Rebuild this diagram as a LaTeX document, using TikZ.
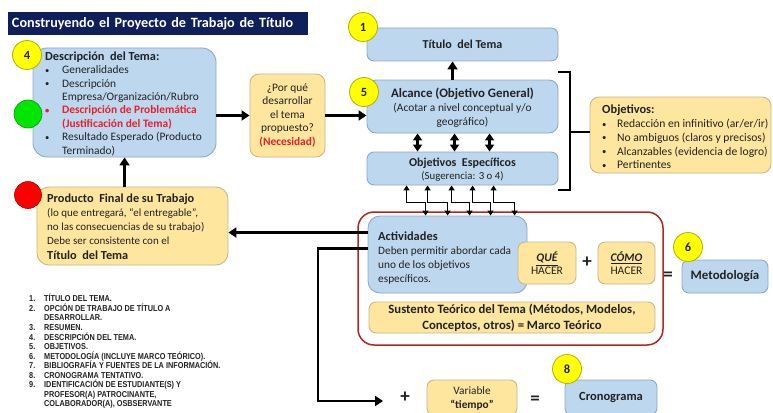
\documentclass[tikz,border=0pt]{standalone}
\usepackage{fontspec}
\usepackage{graphicx}
\setmainfont{Carlito}
\newfontfamily\listfont[FakeStretch=0.85]{Liberation Sans}
\usetikzlibrary{arrows.meta}
\definecolor{bluefill}{HTML}{BDD7EE}
\definecolor{bluebd}{HTML}{8EA9C8}
\definecolor{yelfill}{HTML}{FFE69E}
\definecolor{yelbd}{HTML}{C9B88A}
\definecolor{navy}{HTML}{0E1F5B}
\definecolor{numfill}{HTML}{FFFF00}
\definecolor{numbd}{HTML}{B5B000}
\definecolor{frame}{HTML}{B52525}
\definecolor{alert}{HTML}{E8202A}
\definecolor{ink}{HTML}{222222}
\newcommand{\smallbul}{\raisebox{0.6pt}{\scalebox{0.75}{•}}}
\newcommand{\bul}[1]{\makebox[17pt][l]{\smallbul}#1}
\newcommand{\bulo}[1]{\makebox[15pt][l]{\smallbul}#1}
\begin{document}
\begin{tikzpicture}[x=1pt,y=-1pt,
  every node/.style={text=ink, inner sep=0pt},
  box/.style={rounded corners=7pt, line width=0.9pt, inner sep=0pt},
  bluebox/.style={box, draw=bluebd, fill=bluefill},
  yelbox/.style={box, draw=yelbd, fill=yelfill},
  num/.style={circle, draw=numbd, line width=0.8pt, fill=numfill, minimum size=29pt, font=\fontsize{12.5}{13}\selectfont\bfseries},
  dot/.style={circle, line width=0.6pt, minimum size=28pt},
  big/.style={line width=2.6pt, -{Triangle[length=8pt,width=10pt]}},
  dbl/.style={line width=2.6pt, {Triangle[length=7pt,width=9pt]}-{Triangle[length=7pt,width=9pt]}},
  link/.style={line width=1.4pt, {Triangle[length=5pt,width=6pt]}-{Triangle[length=5pt,width=6pt]}},
  sym/.style={font=\fontsize{19}{19}\selectfont\bfseries}
]
\useasboundingbox (0,0) rectangle (773,412);
\clip (0,0) rectangle (773,412);
\fill[white] (0,0) rectangle (773,412);

% heading bar
\node[fill=navy, minimum width=300pt, minimum height=23pt, text width=292pt, align=left,
      font=\fontsize{14.2}{15}\selectfont\bfseries, text=white] (head) at (158,23.5)
  {Construyendo el\ Proyecto de Trabajo de Título};

% boxes
\node[bluebox, rounded corners=14pt, minimum width=183pt, minimum height=109pt] (desc) at (124.5,102.5) {};
\node[yelbox, rounded corners=9pt, minimum width=75pt, minimum height=83pt] (porque) at (287.5,115.5) {};
\node[bluebox, minimum width=191pt, minimum height=33pt] (titulo) at (462.5,44.5) {};
\node[bluebox, rounded corners=9pt, minimum width=191pt, minimum height=53pt] (alc) at (462.5,106.5) {};
\node[bluebox, minimum width=191pt, minimum height=33pt] (oe) at (462.5,168.5) {};
\node[yelbox, rounded corners=9pt, minimum width=181pt, minimum height=76pt] (obj) at (680.5,135) {};
\node[box, draw=frame, line width=1.5pt, rounded corners=16pt, minimum width=305pt, minimum height=133pt] (frame) at (510.5,278.5) {};
\node[bluebox, rounded corners=12pt, minimum width=159pt, minimum height=77pt] (act) at (447.5,254.5) {};
\node[yelbox, minimum width=58pt, minimum height=42pt] (que) at (547,263) {};
\node[yelbox, minimum width=57pt, minimum height=42pt] (como) at (626.5,263) {};
\node[yelbox, minimum width=286pt, minimum height=31pt] (sust) at (512,317.5) {};
\node[bluebox, minimum width=86pt, minimum height=33pt] (metod) at (725,276.5) {};
\node[yelbox, rounded corners=12pt, minimum width=191pt, minimum height=78pt] (prod) at (132.5,226) {};
\node[yelbox, minimum width=90pt, minimum height=35pt] (var) at (472,397.5) {};
\node[bluebox, minimum width=92pt, minimum height=35pt] (crono) at (611,397.5) {};

% texts
\node[anchor=north west, align=left, font=\fontsize{11.4}{13.4}\selectfont] (desct) at (45,51.5)
  {{\fontsize{12.3}{13.4}\selectfont\bfseries Descripción\ \ del Tema:}\\
   \bul{Generalidades}\\
   \bul{Descripción}\\
   \hspace*{17pt}Empresa/Organización/Rubro\\
   \textcolor{alert}{\bfseries\bul{Descripción de Problemática}}\\
   \hspace*{17pt}\textcolor{alert}{\bfseries(Justificación del Tema)}\\
   \bul{Resultado Esperado (Producto}\\
   \hspace*{17pt}Terminado)};
\node[align=center, font=\fontsize{11.4}{13.5}\selectfont] (porquet) at (287.5,115)
  {¿Por qué\\desarrollar\\el tema\\propuesto?\\\textcolor{alert}{\bfseries(Necesidad)}};
\node[font=\fontsize{12.1}{13}\selectfont\bfseries] (titulot) at (titulo) {Título\ \ del Tema};
\node[align=center, font=\fontsize{11.4}{14}\selectfont] (alct) at (462.5,108)
  {{\fontsize{12.9}{14}\selectfont\bfseries Alcance (Objetivo General)}\\(Acotar a nivel conceptual y/o\\geográfico)};
\node[align=center, font=\fontsize{10.8}{12.5}\selectfont] (oet) at (462.5,169.5)
  {{\fontsize{12}{12.5}\selectfont\bfseries Objetivos\ \ Específicos}\\(Sugerencia: 3 o 4)};
\node[anchor=north west, align=left, font=\fontsize{11.6}{13.7}\selectfont] (objt) at (602,105)
  {{\fontsize{12.4}{13.7}\selectfont\bfseries Objetivos:}\\
   \bulo{Redacción en infinitivo (ar/er/ir)}\\
   \bulo{No ambiguos (claros y precisos)}\\
   \bulo{Alcanzables (evidencia de logro)}\\
   \bulo{Pertinentes}};
\node[anchor=north west, align=left, font=\fontsize{11.3}{14}\selectfont] (actt) at (378,231.5)
  {{\fontsize{12.4}{14}\selectfont\bfseries Actividades}\\Deben permitir abordar cada\\uno de los objetivos\\específicos.};
\node[align=center, font=\fontsize{11.6}{13}\selectfont] (quet) at (547,263.5)
  {\underline{\bfseries\itshape QUÉ}\\HACER};
\node[align=center, font=\fontsize{11.6}{13}\selectfont] (comot) at (626.5,263.5)
  {\underline{\bfseries\itshape CÓMO}\\HACER};
\node[sym] (plus1) at (587,262) {+};
\node[sym] (eq1) at (668,276) {=};
\node[align=center, font=\fontsize{12.7}{16}\selectfont\bfseries] (sustt) at (512,318)
  {Sustento Teórico del Tema (Métodos, Modelos,\\Conceptos,\ otros) = Marco Teórico};
\node[font=\fontsize{12.9}{13}\selectfont\bfseries] (metodt) at (metod) {Metodología};
\node[anchor=north west, align=left, font=\fontsize{11}{14.2}\selectfont] (prodt) at (47,193.5)
  {{\fontsize{12.3}{14.2}\selectfont\bfseries Producto\ \ Final de su Trabajo}\\
   (lo que entregará, “el entregable”,\\
   no las consecuencias de su trabajo)\\
   Debe ser consistente con el\\
   {\fontsize{12.3}{14.2}\selectfont\bfseries Título\ \ del Tema}};
\node[align=center, font=\fontsize{11.3}{14}\selectfont] (vart) at (472,398)
  {Variable\\\textbf{“tiempo”}};
\node[font=\fontsize{12.5}{13}\selectfont\bfseries] (cronot) at (crono) {Cronograma};
\node[sym] (plus2) at (405,397) {+};
\node[sym] (eq2) at (535,400) {=};

% outline list
\node[anchor=north west, align=left, font=\listfont\bfseries\fontsize{8.6}{9.55}\selectfont] (lista) at (29,294)
  {\makebox[15pt][l]{1.}TÍTULO DEL TEMA.\\
   \makebox[15pt][l]{2.}OPCIÓN DE TRABAJO DE TÍTULO A\\
   \hspace*{15pt}DESARROLLAR.\\
   \makebox[15pt][l]{3.}RESUMEN.\\
   \makebox[15pt][l]{4.}DESCRIPCIÓN DEL TEMA.\\
   \makebox[15pt][l]{5.}OBJETIVOS.\\
   \makebox[15pt][l]{6.}METODOLOGÍA (INCLUYE MARCO TEÓRICO).\\
   \makebox[15pt][l]{7.}BIBLIOGRAFÍA Y FUENTES DE LA INFORMACIÓN.\\
   \makebox[15pt][l]{8.}CRONOGRAMA TENTATIVO.\\
   \makebox[15pt][l]{9.}IDENTIFICACIÓN DE ESTUDIANTE(S) Y\\
   \hspace*{15pt}PROFESOR(A) PATROCINANTE,\\
   \hspace*{15pt}COLABORADOR(A),\ OSBSERVANTE};

% markers
\node[num] (n4) at (27,55) {4};
\node[num] (n1) at (363,27) {1};
\node[num] (n5) at (364,92) {5};
\node[num] (n6) at (688,247) {6};
\node[num] (n8) at (567,369) {8};
\node[dot, fill={rgb,255:red,0;green,230;blue,0}, draw={rgb,255:red,0;green,150;blue,0}] (green) at (28,114) {};
\node[dot, minimum size=27pt, fill=red, draw={rgb,255:red,170;green,0;blue,0}] (reddot) at (28,195) {};

% connectors
\draw[big] (desc.east |- porque.center) -- (porque.west);
\draw[big] (porque.east) -- (alc.west |- porque.east);
\draw[big] ([xshift=86pt]alc.north west) -- ([xshift=86pt]titulo.south west);
\foreach \s in {51,88,123}
  \draw[dbl] ([xshift=\s pt]alc.south west) -- ([xshift=\s pt]oe.north west);
\foreach \u/\d in {40/58, 61/80, 85/102, 106/123, 127/147}
  \draw[link] ([xshift=\u pt]oe.south west) -- ++(0,17) -| ([xshift=\d pt]act.north west);
\coordinate (pa) at ([xshift=88pt]prod.north west);
\draw[big] (pa) -- (pa |- desc.south);
\coordinate (a1) at ([yshift=-17pt]act.north west);
\draw[big] (a1) -- (a1 -| prod.east);
\coordinate (a2) at ([yshift=-33pt]act.north west);
\coordinate (turn) at (318,401);
\coordinate (tip) at (383,401);
\draw[big] (a2) -| (turn) -- (tip);
% brace over the objectives
\coordinate (bt) at (570,72);
\coordinate (bb) at (570,190);
\draw[line width=1.5pt] ([xshift=-12pt]bt) -- (bt) -- (bb) -- ([xshift=-12pt]bb);
\draw[line width=1.5pt] (570,132) -- (obj.west |- 570,132);
\end{tikzpicture}
\end{document}
